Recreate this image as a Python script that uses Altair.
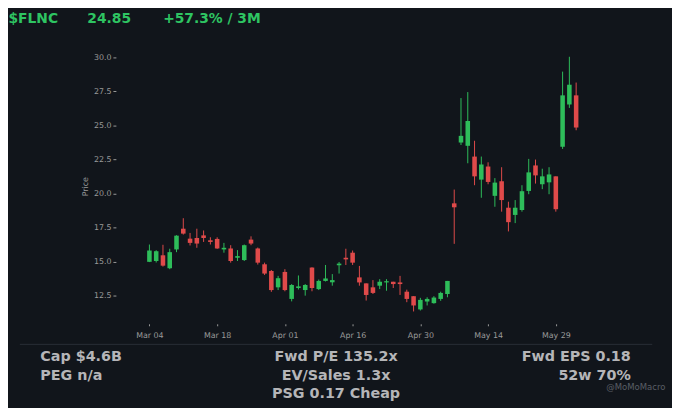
import json
import altair as alt
import pandas as pd

# ---- data (trading-day index 0..63) ----
opens = [15.00, 15.06, 15.48, 14.53, 15.91, 17.43, 16.70, 16.75, 16.94, 16.58,
         16.68, 15.91, 15.98, 15.30, 15.13, 16.63, 15.98, 14.82, 14.33, 13.13,
         14.26, 12.28, 13.08, 12.93, 14.58, 13.00, 13.60, 13.50, 14.75, 15.30,
         15.67, 13.86, 13.42, 13.13, 13.25, 13.49, 13.54, 13.49, 12.81, 12.48,
         11.51, 12.09, 11.97, 12.28, 12.64, 19.29, 23.75, 23.51, 22.72, 21.03,
         21.99, 19.84, 20.91, 18.97, 18.44, 18.80, 20.20, 22.07, 20.69, 20.83,
         21.27, 23.44, 26.54, 27.21]
highs = [16.27, 15.85, 16.25, 15.96, 16.95, 18.20, 17.12, 17.43, 17.30, 16.80,
         16.80, 16.39, 16.22, 15.86, 16.27, 16.87, 16.05, 14.94, 14.40, 13.97,
         14.46, 13.37, 14.00, 13.37, 14.60, 13.70, 14.77, 14.10, 14.99, 15.96,
         15.83, 14.70, 13.42, 13.66, 13.73, 13.73, 13.54, 13.97, 12.96, 12.48,
         12.36, 12.40, 12.48, 12.81, 13.60, 20.30, 27.01, 27.45, 23.88, 22.72,
         22.30, 21.14, 21.94, 19.41, 19.53, 20.62, 22.55, 22.50, 21.83, 21.94,
         21.27, 28.95, 30.04, 28.15]
lows = [14.98, 14.95, 14.65, 14.46, 15.71, 17.00, 16.20, 16.03, 16.46, 16.27,
        15.95, 15.67, 14.94, 15.06, 15.06, 16.22, 14.80, 14.04, 12.80, 12.93,
        12.84, 12.10, 12.97, 12.52, 12.84, 12.93, 13.56, 13.25, 14.14, 14.77,
        14.77, 13.25, 12.16, 12.64, 13.00, 12.88, 13.08, 12.57, 12.04, 11.36,
        11.43, 11.80, 11.93, 12.14, 12.40, 16.32, 23.57, 22.23, 20.62, 19.70,
        20.69, 19.04, 18.68, 17.23, 17.84, 18.68, 19.96, 20.74, 20.33, 19.96,
        18.68, 23.28, 26.29, 24.65]
closes = [15.83, 15.78, 14.72, 15.71, 16.92, 17.07, 16.39, 16.34, 16.75, 16.46,
          15.98, 16.03, 15.06, 15.42, 16.22, 16.34, 14.94, 14.14, 12.93, 13.80,
          12.93, 13.30, 13.20, 13.30, 13.08, 13.60, 13.78, 13.66, 14.87, 15.18,
          14.94, 13.49, 12.57, 12.72, 13.54, 13.58, 13.37, 13.37, 12.28, 11.80,
          12.21, 12.28, 12.38, 12.72, 13.60, 19.00, 24.24, 25.33, 21.27, 22.14,
          20.86, 20.81, 19.53, 17.91, 18.97, 20.18, 21.56, 21.34, 21.27, 21.41,
          18.86, 27.21, 27.99, 24.85]

tick_idx = [0, 10, 20, 30, 40, 50, 60]
tick_labels = ["Mar 04", "Mar 18", "Apr 01", "Apr 16", "Apr 30", "May 14", "May 29"]
y_ticks = [12.5, 15.0, 17.5, 20.0, 22.5, 25.0, 27.5, 30.0]

header = ["$FLNC", "24.85", "+57.3% / 3M"]
left_stats = ["Cap $4.6B", "PEG n/a"]
mid_stats = ["Fwd P/E 135.2x", "EV/Sales 1.3x", "PSG 0.17 Cheap"]
right_stats = ["Fwd EPS 0.18", "52w 70%"]
credit = "@MoMoMacro"

# ---- styling ----
BG = "#11151b"
GREEN = "#2ebd5a"
RED = "#e04a4a"
HEAD_GREEN = "#2ec462"
AXIS_GRAY = "#9a9a9a"
STAT_GRAY = "#b5b5b8"
FONT = "DejaVu Sans"

PL, PT = 118.7, 48.6          # plot-area origin in page coordinates
W, H = 483, 274.6

df = pd.DataFrame({
    "i": list(range(len(opens))),
    "open": opens, "high": highs, "low": lows, "close": closes,
})
df["dir"] = ["up" if c >= o else "down" for o, c in zip(opens, closes)]

xscale = alt.Scale(domain=[-4, 65], nice=False, zero=False)
yscale = alt.Scale(domain=[10.6, 30.5], nice=False, zero=False)
color = alt.Color("dir:N", scale=alt.Scale(domain=["up", "down"], range=[GREEN, RED]), legend=None)

label_expr = f"{json.dumps(tick_labels)}[indexof({json.dumps(tick_idx)}, datum.value)]"

xaxis = alt.Axis(values=tick_idx, labelExpr=label_expr, title=None, grid=False, domain=False,
                 tickSize=2, offset=2, labelPadding=6, tickColor=AXIS_GRAY, labelColor=AXIS_GRAY,
                 labelFontSize=8, labelFont=FONT, labelOverlap=False)
yaxis = alt.Axis(values=y_ticks, format=".1f", title="Price", grid=False, domain=False,
                 tickSize=3, offset=1.5, labelPadding=2, tickColor=AXIS_GRAY, labelColor=AXIS_GRAY,
                 labelFontSize=8, labelFont=FONT, titleFontSize=8, titleFont=FONT,
                 titleFontWeight="normal", titleColor=AXIS_GRAY, titlePadding=4,
                 labelOverlap=False)

base = alt.Chart(df)
wicks = base.mark_rule(strokeWidth=1).encode(
    x=alt.X("i:Q", scale=xscale, axis=xaxis),
    y=alt.Y("low:Q", scale=yscale, axis=yaxis),
    y2="high:Q",
    color=color,
)
bodies = base.mark_bar(size=4.6).encode(
    x=alt.X("i:Q", scale=xscale, axis=xaxis),
    y=alt.Y("open:Q", scale=yscale, axis=yaxis),
    y2="close:Q",
    color=color,
)


def label(txt, px, py, size, col, align="left", weight="bold"):
    return alt.Chart(pd.DataFrame({"t": [txt]})).mark_text(
        align=align, baseline="alphabetic", fontSize=size, fontWeight=weight,
        color=col, font=FONT,
    ).encode(x=alt.value(px - PL), y=alt.value(py - PT), text="t:N")


texts = [
    label(header[0], 8.5, 21, 14, HEAD_GREEN),
    label(header[1], 88.3, 21, 14, HEAD_GREEN),
    label(header[2], 165, 21, 14, HEAD_GREEN),
    label(left_stats[0], 40.7, 363.3, 14.5, STAT_GRAY),
    label(left_stats[1], 40.7, 381.7, 14.5, STAT_GRAY),
    label(mid_stats[0], 340, 363.3, 14.5, STAT_GRAY, align="center"),
    label(mid_stats[1], 340, 381.7, 14.5, STAT_GRAY, align="center"),
    label(mid_stats[2], 340, 400, 14.5, STAT_GRAY, align="center"),
    label(right_stats[0], 638.3, 363.3, 14.5, STAT_GRAY, align="right"),
    label(right_stats[1], 638.3, 381.7, 14.5, STAT_GRAY, align="right"),
    label(credit, 673.3, 391.7, 8.6, "#5a5f66", align="right", weight="normal"),
]

sep = alt.Chart(pd.DataFrame({"a": [0]})).mark_rule(color="#2a2f37", strokeWidth=1).encode(
    x=alt.value(20 - PL), x2=alt.value(660 - PL), y=alt.value(346 - PT)
)

chart = alt.layer(wicks, bodies, sep, *texts).properties(
    width=W, height=H,
    autosize=alt.AutoSizeParams(type="none"),
    padding={"left": PL - 8, "top": PT - 8, "right": 672 - (PL - 8) - W, "bottom": 400 - (PT - 8) - H},
).configure(background=BG).configure_view(stroke=None)

chart.save("out.html", embed_options={"renderer": "svg", "actions": False})
